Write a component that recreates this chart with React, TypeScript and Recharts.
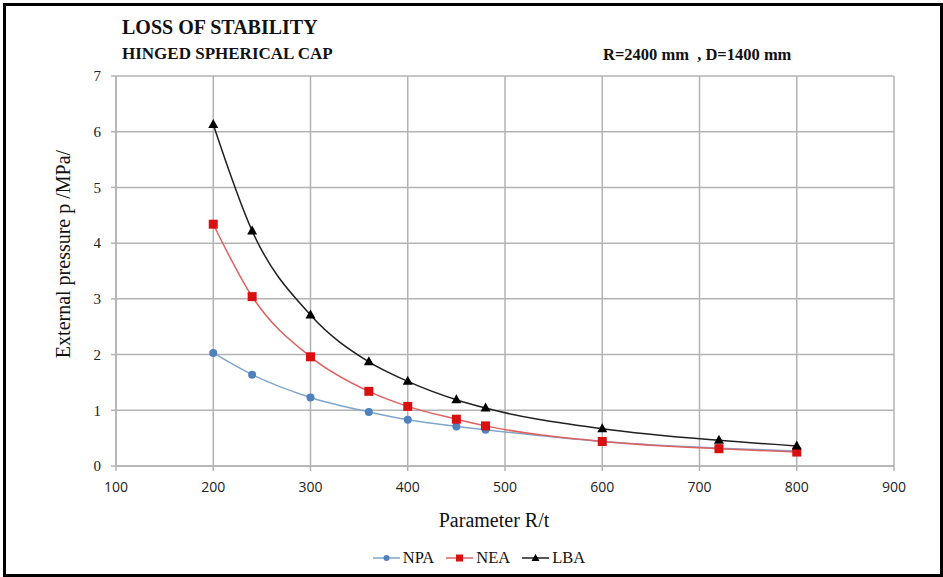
import React from "react";
import { LineChart, Line, XAxis, YAxis, CartesianGrid, Legend } from "recharts";

const xValues = [200, 240, 300, 360, 400, 450, 480, 600, 720, 800];
const npa = [2.03, 1.64, 1.23, 0.97, 0.83, 0.71, 0.65, 0.44, 0.32, 0.27];
const nea = [4.34, 3.04, 1.96, 1.34, 1.07, 0.84, 0.72, 0.44, 0.31, 0.25];
const lba = [6.13, 4.22, 2.71, 1.87, 1.52, 1.19, 1.04, 0.67, 0.46, 0.36];
const xTicks = [100, 200, 300, 400, 500, 600, 700, 800, 900];
const yTicks = [0, 1, 2, 3, 4, 5, 6, 7];

const data = xValues.map((x, i) => ({ x, NPA: npa[i], NEA: nea[i], LBA: lba[i] }));

const GRID = "#b3b3b3";
const SERIF = "'Liberation Serif', 'Times New Roman', serif";
const SANS = "'Open Sans', 'Liberation Sans', sans-serif";

const C_NPA = { line: "#7ea6cc", mark: "#4f81bd" };
const C_NEA = { line: "#e06060", mark: "#d81010" };
const C_LBA = { line: "#202020", mark: "#000000" };

const CircleDot = (p: any) => (
  <circle key={`c${p.index}`} cx={p.cx} cy={p.cy} r={4} fill={C_NPA.mark} stroke="none" />
);
const SquareDot = (p: any) => (
  <rect key={`s${p.index}`} x={p.cx - 4.5} y={p.cy - 4.5} width={9} height={9} fill={C_NEA.mark} stroke="none" />
);
const TriDot = (p: any) => (
  <path
    key={`t${p.index}`}
    d={`M${p.cx},${p.cy - 5.5} L${p.cx + 5},${p.cy + 3.5} L${p.cx - 5},${p.cy + 3.5} Z`}
    fill={C_LBA.mark}
  />
);

const legendItems = [
  { name: "NPA", color: C_NPA.line, mark: "circle", mc: C_NPA.mark },
  { name: "NEA", color: C_NEA.line, mark: "square", mc: C_NEA.mark },
  { name: "LBA", color: C_LBA.line, mark: "tri", mc: C_LBA.mark },
];

const LegendContent = () => (
  <div style={{ display: "flex", justifyContent: "center", alignItems: "center", height: 20, fontFamily: SERIF, fontSize: 16.5, color: "#111", paddingLeft: 0 }}>
    {legendItems.map((it, i) => (
      <div key={it.name} style={{ display: "flex", alignItems: "center", marginLeft: i === 0 ? 0 : 12 }}>
        <svg width={27} height={12}>
          <line x1={0} y1={6} x2={27} y2={6} stroke={it.color} strokeWidth={1.5} />
          {it.mark === "circle" && <circle cx={13.5} cy={6} r={3} fill={it.mc} />}
          {it.mark === "square" && <rect x={10} y={2.5} width={7} height={7} fill={it.mc} />}
          {it.mark === "tri" && <path d="M13.5,2 L17.5,9 L9.5,9 Z" fill={it.mc} />}
        </svg>
        <span style={{ marginLeft: 3 }}>{it.name}</span>
      </div>
    ))}
  </div>
);

export default function App() {
  return (
    <div style={{ position: "absolute", left: 0, top: 0, width: 943, height: 577, background: "#fff" }}>
      <div style={{ position: "absolute", left: 3, top: 3, width: 934, height: 568, border: "3px solid #000", boxSizing: "content-box" }} />
      <div style={{ position: "absolute", left: 122, top: 16, fontFamily: SERIF, fontWeight: "bold", fontSize: 20, color: "#111", whiteSpace: "nowrap" }}>
        LOSS OF STABILITY
      </div>
      <div style={{ position: "absolute", left: 122, top: 44, fontFamily: SERIF, fontWeight: "bold", fontSize: 17, color: "#111", whiteSpace: "nowrap" }}>
        HINGED SPHERICAL CAP
      </div>
      <div style={{ position: "absolute", left: 603, top: 45, fontFamily: SERIF, fontWeight: "bold", fontSize: 16.5, color: "#111", whiteSpace: "pre" }}>
        {"R=2400 mm  , D=1400 mm"}
      </div>
      <div style={{ position: "absolute", left: 0, width: 988, top: 509, textAlign: "center", fontFamily: SERIF, fontSize: 20, color: "#111" }}>
        Parameter R/t
      </div>
      <div style={{ position: "absolute", left: 0, top: 0 }}>
        <LineChart width={943} height={577} data={data} margin={{ top: 76, right: 49, left: 56, bottom: 61 }}>
          <CartesianGrid stroke={GRID} strokeWidth={1.5} />
          <XAxis
            dataKey="x"
            type="number"
            domain={[100, 900]}
            ticks={xTicks}
            height={30}
            stroke={GRID}
            strokeWidth={1.5}
            tickSize={5}
            tickMargin={11}
            tick={{ fill: "#222", fontFamily: SANS, fontSize: 14 }}
            tickLine={{ stroke: GRID }}
          />
          <YAxis
            type="number"
            domain={[0, 7]}
            ticks={yTicks}
            width={60}
            stroke={GRID}
            strokeWidth={1.5}
            tickSize={5}
            tickMargin={10}
            interval={0}
            tick={{ fill: "#222", fontFamily: SERIF, fontSize: 15 }}
            tickLine={{ stroke: GRID }}
            label={{ value: "External pressure p /MPa/", angle: -90, position: "center", dx: -23, dy: -17, style: { fontFamily: SERIF, fontSize: 20, fill: "#111" } }}
          />
          <Legend verticalAlign="bottom" content={<LegendContent />} wrapperStyle={{ position: "absolute", top: 548, bottom: "auto", left: 0, width: 958 }} />
          <Line type="monotone" dataKey="NPA" stroke={C_NPA.line} strokeWidth={1.5} dot={CircleDot} isAnimationActive={false} />
          <Line type="monotone" dataKey="NEA" stroke={C_NEA.line} strokeWidth={1.5} dot={SquareDot} isAnimationActive={false} />
          <Line type="monotone" dataKey="LBA" stroke={C_LBA.line} strokeWidth={1.5} dot={TriDot} isAnimationActive={false} />
        </LineChart>
      </div>
    </div>
  );
}
